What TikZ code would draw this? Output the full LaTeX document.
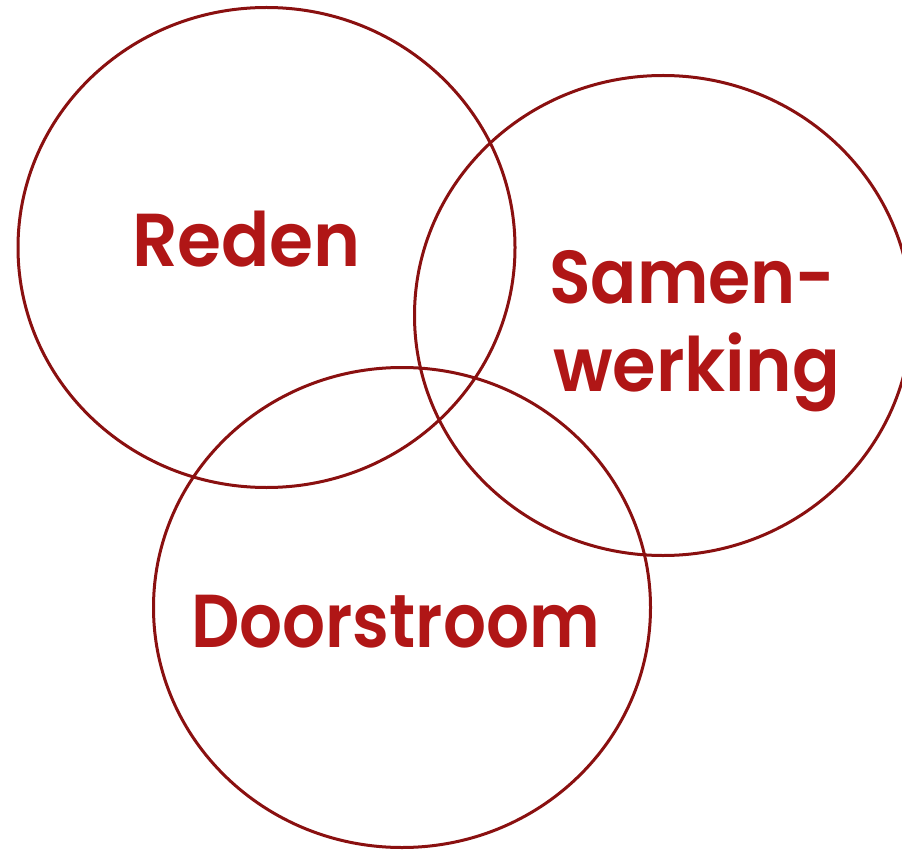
\documentclass[tikz,border=0pt]{standalone}
\usepackage{graphicx}
\usepackage{fontspec}
\setmainfont{Poppins}
\newfontfamily\popsb{Poppins SemiBold}
\newcommand{\narrowtext}[2]{\scalebox{#1}[1]{#2}}
\definecolor{ringred}{HTML}{8A1010}
\definecolor{textred}{HTML}{B01616}
\begin{document}
\begin{tikzpicture}[x=1pt,y=-1pt,
  ring/.style={draw=ringred,line width=3pt},
  label/.style={text=textred,font=\fontsize{75}{87}\popsb,anchor=base,inner sep=0pt}]
\useasboundingbox (0,0) rectangle (902,850);
\begin{scope}
\clip (0,0) rectangle (902,850);
\draw[ring] (266.5,247.5) ellipse [x radius=248.5, y radius=240];
\draw[ring] (663,315.5) ellipse [x radius=248.5, y radius=240];
\draw[ring] (402,607.5) ellipse [x radius=248.5, y radius=240];
\end{scope}
\node[label] (reden) at (246.5,267) {\narrowtext{0.95}{Reden}};
\node[label] (samen) at (692.5,304) {\narrowtext{0.91}{Samen-}};
\node[label] (werking) at (696.5,391) {\narrowtext{0.94}{werking}};
\node[label] (door) at (395.5,647) {\narrowtext{0.90}{Doorstroom}};
\end{tikzpicture}
\end{document}
